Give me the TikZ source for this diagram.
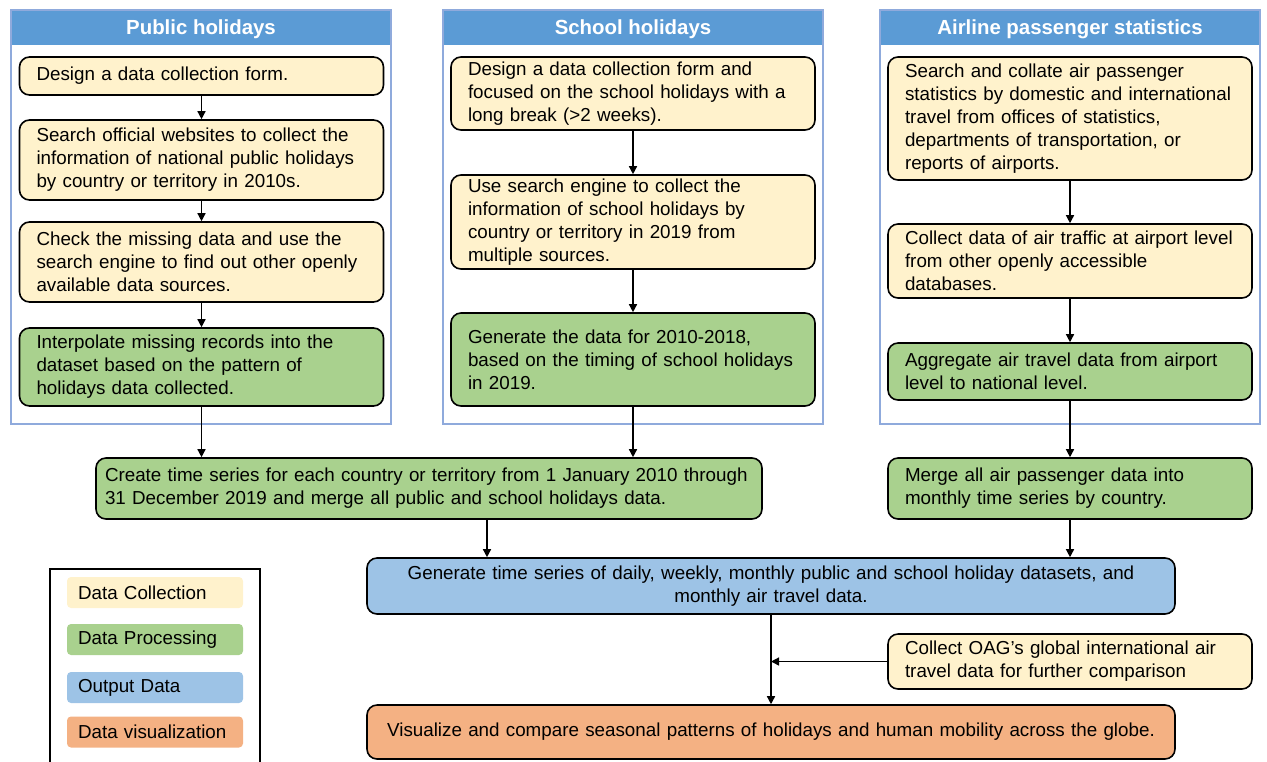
\documentclass[tikz,border=0pt]{standalone}
\usepackage{fontspec}
\setmainfont{Liberation Sans}
\usetikzlibrary{arrows.meta}

\definecolor{collectc}{HTML}{FFF2CC}
\definecolor{processc}{HTML}{A9D18E}
\definecolor{outputc}{HTML}{9DC3E6}
\definecolor{visualc}{HTML}{F4B183}
\definecolor{headc}{HTML}{5B9BD5}
\definecolor{panelc}{HTML}{8FAADC}

\tikzset{
  stepbox/.style={draw, line width=0.8pt, rounded corners=5pt, inner xsep=8.5pt, inner ysep=0pt,
    font=\fontsize{9.4}{11.5}\selectfont, align=left},
  collect/.style={stepbox, fill=collectc},
  process/.style={stepbox, fill=processc},
  panelw/.style={text width=165pt},
  keybox/.style={rounded corners=2pt, inner xsep=5.5pt, text width=77pt, minimum height=15.5pt,
    font=\fontsize{9.4}{11.5}\selectfont, align=left},
}

\begin{document}
\begin{tikzpicture}[x=0.5pt, y=-0.5pt, >={Triangle[length=4pt,width=4pt]}]
        \useasboundingbox (0,0) rectangle (1267,761);

        % Panels with headers
        \foreach \px/\ttl/\nm in {11/Public holidays/h1, 443/School holidays/h2, 880/Airline passenger statistics/h3}{
            \fill[headc] (\px,10) rectangle (\px+380,45);
            \draw[panelc, line width=0.6pt] (\px,10) rectangle (\px+380,424);
            \node[text=white, font=\fontsize{10.2}{11}\selectfont\bfseries] (\nm) at (\px+190,29) {\ttl};
        }

        % ---- Public holidays ----
        \node[collect, panelw, minimum height=19pt] (b1) at (201.5,76) {Design a data collection form.};
        \node[collect, panelw, minimum height=40pt] (b2) at (201.5,160) {Search official websites to collect the\\information of national public holidays\\by country or territory in 2010s.};
        \node[collect, panelw, minimum height=40pt] (b3) at (201.5,262) {Check the missing data and use the\\search engine to find out other openly\\available data sources.};
        \node[process, panelw, minimum height=39pt] (b4) at (201.5,367) {Interpolate missing records into the\\dataset based on the pattern of\\holidays data collected.};

        % ---- School holidays ----
        \node[collect, panelw, minimum height=36.5pt] (s1) at (633,93.5) {Design a data collection form and\\focused on the school holidays with a\\long break (>2 weeks).};
        \node[collect, panelw, minimum height=47pt] (s2) at (633,222) {Use search engine to collect the\\information of school holidays by\\country or territory in 2019 from\\multiple sources.};
        \node[process, panelw, minimum height=46.5pt] (s3) at (633,359.5) {Generate the data for 2010-2018,\\based on the timing of school holidays\\in 2019.};

        % ---- Airline passenger statistics ----
        \node[collect, panelw, minimum height=61.5pt] (a1) at (1070,118.5) {Search and collate air passenger\\statistics by domestic and international\\travel from offices of statistics,\\departments of transportation, or\\reports of airports.};
        \node[collect, panelw, minimum height=37pt] (a2) at (1070,261) {Collect data of air traffic at airport level\\from other openly accessible\\databases.};
        \node[process, panelw, minimum height=28.5pt] (a3) at (1070,371.5) {Aggregate air travel data from airport\\level to national level.};

        % ---- Merging and output ----
        \node[process, text width=324pt, inner xsep=4.5pt, minimum height=30.5pt] (m1) at (429,488.5) {Create time series for each country or territory from 1 January 2010 through\\31 December 2019 and merge all public and school holidays data.};
        \node[process, panelw, minimum height=30.5pt] (m2) at (1070,488.5) {Merge all air passenger data into\\monthly time series by country.};
        \node[stepbox, fill=outputc, text width=387pt, align=center, minimum height=28pt] (out) at (771,586) {Generate time series of daily, weekly, monthly public and school holiday datasets, and\\monthly air travel data.};
        \node[collect, panelw, minimum height=27.5pt] (oag) at (1070,661.5) {Collect OAG’s global international air\\travel data for further comparison};
        \node[stepbox, fill=visualc, text width=387pt, align=center, minimum height=27pt] (vis) at (771,732) {Visualize and compare seasonal patterns of holidays and human mobility across the globe.};

        % Arrows
        \draw[->, line width=0.7pt] (b1) -- (b2);
        \draw[->, line width=0.7pt] (b2) -- (b3);
        \draw[->, line width=0.7pt] (b3) -- (b4);
        \draw[->, line width=0.7pt] (s1) -- (s2);
        \draw[->, line width=0.7pt] (s2) -- (s3);
        \draw[->, line width=0.7pt] (a1) -- (a2);
        \draw[->, line width=0.7pt] (a2) -- (a3);
        \draw[->, line width=0.7pt] (b4.south) -- (b4.south |- m1.north);
        \draw[->, line width=0.7pt] (s3.south) -- (s3.south |- m1.north);
        \draw[->, line width=0.7pt] (a3) -- (m2);
        \draw[->, line width=0.7pt] ([xshift=29pt]m1.south) -- ([xshift=29pt]m1.south |- out.north);
        \draw[->, line width=0.7pt] (m2.south) -- (m2.south |- out.north);
        \draw[->, line width=0.7pt] (out) -- (vis);
        \draw[->, line width=0.7pt] (oag.west) -- (oag.west -| out.south);

        % Legend
        \draw[line width=0.8pt] (50,569) rectangle (260,780);
        \node[keybox, fill=collectc] (k1) at (155,592.5) {Data Collection};
        \node[keybox, fill=processc] (k2) at (155,639.5) {Data Processing};
        \node[keybox, fill=outputc] (k3) at (155,687.5) {Output Data};
        \node[keybox, fill=visualc] (k4) at (155,732) {Data visualization};

    \end{tikzpicture}
\end{document}
